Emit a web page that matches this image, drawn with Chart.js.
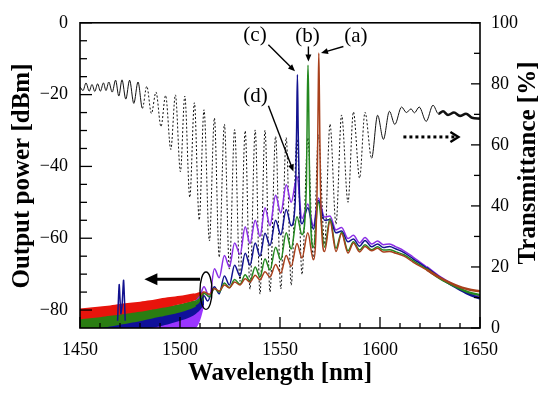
<!DOCTYPE html>
<html><head><meta charset="utf-8">
<script src="https://cdn.jsdelivr.net/npm/chart.js@4.4.1/dist/chart.umd.min.js"></script>
<style>html,body{margin:0;padding:0;background:#fff}</style>
</head><body>
<canvas id="c" width="550" height="395"></canvas>
<script>
const FONT = '"Liberation Serif","Times New Roman",Times,serif';

// ---- axis ticks ----
const wavelengthTicks = [1450, 1500, 1550, 1600, 1650];
const wavelengthMinor = [1460,1470,1480,1490,1510,1520,1530,1540,1560,1570,1580,1590,1610,1620,1630,1640];
const powerTicks = [-80, -60, -40, -20, 0];
const powerMinor = [-75,-70,-65,-55,-50,-45,-35,-30,-25,-15,-10,-5];
const transTicks = [0, 20, 40, 60, 80, 100];
const transMinor = [10, 30, 50, 70, 90];

// ---- transmittance (right axis, %) ----
const transWl = [1450,1451.5,1453,1454.6,1456,1457.4,1458.8,1460.2,1461.7,1463,1464.4,1466.1,1467.8,1469.4,1471,1472.9,1474.8,1476.9,1479,1481.2,1483.4,1485.7,1488,1490.5,1492.8,1495.4,1497.7,1500.2,1502.4,1504.9,1507.2,1509.6,1512,1514.7,1517.2,1519.6,1522.2,1524.7,1527.3,1530,1532.6,1535,1537.6,1540,1542.5,1545,1547.8,1550.4,1553.1,1555.6,1558.5,1561,1563.9,1566.7,1569.2,1572.3,1575,1578,1580.8,1584,1586.7,1589.8,1592.5,1595.8,1598.8,1601.7,1604.7,1607.4,1610.8,1613.2,1615.5,1617.2,1619.6,1623.1,1626.5,1629.2,1631.5,1634,1637,1640,1643,1646,1650];
const transVal = [79,77.8,80.3,77.6,79.8,77.5,80,77.6,80.3,77.8,80.6,77.3,81.2,76,81.3,75,81.2,73.6,80.6,72,79.2,70.3,77.3,66,76.2,58.5,76.4,51.2,76,42.8,73.8,35.4,71.5,28.5,68.8,23.2,66.8,19.3,65,15.3,64.6,12.7,64.9,11.1,64.8,11.8,62.8,12.8,62.4,14,62,17.5,62.3,22.5,63.3,27.5,66.8,34,69.8,41.2,70.8,49.1,70.7,55.6,69.7,61.8,71,66.7,72.4,70.6,71.8,70.5,72.4,67.7,73,70.2,71,69.8,70.6,69.5,70.2,68.9,68.6];

// ---- output spectra (left axis, dBm) ----
const specDWl = [1508,1510,1512,1514.7,1517.2,1519.6,1522.2,1524.7,1527.3,1530,1532.6,1535,1537.6,1540,1542.5,1545,1547.8,1550.4,1553.1,1555.6,1558.5,1561,1563.9,1566.7,1569.2,1572.3,1575,1578,1580.8,1584,1586.7,1589.8,1592.5,1595.8,1598.8,1601.7,1604.7,1608,1612,1616.7,1623.3,1630,1638.3,1644,1650];
const specDVal = [-77.5,-76,-73.5,-76.5,-68.5,-71,-64.8,-68,-61.3,-64.5,-56.8,-61.5,-55,-59.5,-51.5,-56.5,-48,-53,-45.1,-50,-42.8,-54.5,-50.5,-56.5,-48.8,-54.1,-53.8,-57.7,-57,-60.1,-59.2,-61.3,-59.8,-61.6,-60.8,-61.8,-61.6,-62.4,-63.5,-65.3,-68,-70.8,-73.5,-75.2,-76.3];

const specCWl = [1508,1510,1512,1513.8,1517.2,1519.6,1522.2,1524.7,1527.3,1530,1532.6,1535,1537.6,1540,1542.5,1545,1547.8,1550.4,1553.1,1555.6,1557.6,1558.3,1558.7,1559.1,1559.8,1561,1563.9,1566.7,1569.2,1572.3,1575,1578,1580.8,1584,1586.7,1589.8,1592.5,1595.8,1598.8,1601.7,1604.7,1608,1612,1616.7,1623.3,1630,1638.3,1644,1650];
const specCVal = [-79,-78,-76,-77.5,-73.5,-75.5,-70.5,-73,-67.5,-70.5,-64.2,-67.5,-61.3,-65,-58.6,-62,-55,-59,-52,-56.5,-50,-30,-14.4,-30,-50,-56,-51.5,-57.5,-49.5,-55,-54.8,-58.5,-58,-61,-60.2,-62.2,-60.6,-62.4,-61.6,-62.6,-62.3,-63,-64,-65.8,-68.3,-71,-73.8,-75.5,-76.8];

const specBWl = [1508,1510,1512,1514.7,1517.2,1519.6,1522.2,1524.7,1527.3,1530,1532.6,1535,1537.6,1540,1542.5,1545,1547.8,1550.4,1553.1,1555.6,1558.5,1561,1563.2,1563.7,1564,1564.3,1564.8,1566.7,1569.2,1572.3,1575,1578,1580.8,1584,1586.7,1589.8,1592.5,1595.8,1598.8,1601.7,1604.7,1608,1612,1616.7,1623.3,1630,1638.3,1644,1650];
const specBVal = [-77.5,-76.8,-75.3,-76.3,-74,-75,-72.5,-73.8,-71.5,-72.8,-70.2,-72,-68,-70.8,-65.8,-68.8,-62.5,-66,-58.5,-63,-54,-59,-45,-20,-11.8,-20,-45,-62.5,-50,-62.5,-54.5,-62.8,-58.3,-63.5,-61,-63.3,-61.8,-63.2,-62.4,-63.3,-63.2,-63.8,-64.6,-66.3,-68.6,-71.2,-73.6,-75,-75.8];

const specAWl = [1508,1510,1512,1514.7,1517.2,1519.6,1522.2,1524.7,1527.3,1530,1532.6,1535,1537.6,1540,1542.5,1545,1547.8,1550.4,1553.1,1555.6,1558.5,1561,1563.9,1566.7,1568.6,1569.1,1569.4,1569.7,1570.2,1572.3,1575,1578,1580.8,1584,1586.7,1589.8,1592.5,1595.8,1598.8,1601.7,1604.7,1608,1612,1616.7,1623.3,1630,1638.3,1644,1650];
const specAVal = [-76.5,-75.8,-75,-75.6,-74,-74.7,-73,-73.8,-72.2,-73,-71.3,-72.2,-70.3,-71.6,-69.3,-70.8,-67.3,-69.7,-64.8,-67.8,-61.5,-65.5,-58.5,-66,-45,-20,-8.4,-20,-45,-63.7,-55.3,-63.7,-58.7,-64.1,-61.3,-63.8,-62.3,-63.5,-62.8,-63.8,-63.7,-64.2,-65,-66.7,-68.8,-71,-73.2,-74.2,-74.8];

// ---- noise floor bands (dBm) ----
const floorWl = [1450,1455,1460,1465,1470,1475,1480,1485,1490,1495,1500,1505,1508,1510,1512];
const redTop = [-79.6,-79.3,-79,-78.7,-78.3,-78,-77.7,-77.3,-76.8,-76.4,-76,-75.5,-75.3,-75,-74.8];
const redBottom = [-82.6,-82.3,-82,-81.6,-81.3,-80.9,-80.5,-80,-79.5,-79,-78.4,-77.7,-77.2,-76.7,-76];
const greenTop = [-82.4,-82.1,-81.8,-81.4,-81,-80.6,-80.2,-79.8,-79.3,-78.8,-78.3,-77.6,-77.2,-76.7,-76];
const greenBottom = [-85,-85,-85,-84.6,-84.1,-83.6,-83.1,-82.5,-81.9,-81.3,-80.7,-79.8,-79,-78.2,-77];
const navyTop = [-84.8,-84.4,-84,-83.5,-83,-82.5,-82,-81.3,-80.6,-79.9,-79.2,-78.2,-77.6,-77,-76.5];
const navyBottom = [-85,-85,-85,-85,-85,-85,-85,-85,-84.5,-83.8,-83,-82,-81,-80,-78.5];
const purpleTop = [-85,-85,-85,-85,-85,-85,-85,-84.3,-83.5,-82.5,-81.5,-80,-79,-78,-77];
const purpleBottom = [-85,-85,-85,-85,-85,-85,-85,-85,-85,-85,-85,-85,-85,-83,-79];
const spurWl = [1468.8,1469.6,1470.4,1471,1471.8,1472.6];
const spurVal = [-83,-72.9,-81,-79,-71.7,-83];

// ---- annotations ----
const noteText = ['(a)', '(b)', '(c)', '(d)'];
const noteWl = [1587.9, 1563.75, 1537.5, 1537.8];
const notePow = [-3.8, -3.8, -3.6, -20.4];
const pointerFromWl = [1581.7, 1564.2, 1544.2, 1544.2];
const pointerFromPow = [-6.6, -6.6, -6.1, -23.1];
const pointerToWl = [1570.5, 1564.2, 1557.5, 1556.7];
const pointerToPow = [-8.4, -10.8, -13.5, -41.4];
const ellipseCenter = [1513, -74.6];
const ellipseRadius = [3, 5.2];
const leftArrow = [1510, 1482.2, -71.4];      // from wl, to wl, power
const rightArrow = [1611.7, 1639.2, 62.6];    // from wl, to wl, transmittance

const pts = (xs, ys) => xs.map((v, i) => ({x: v, y: ys[i]}));

const COL = {a: '#a8401c', b: '#23881f', c: '#12128f', d: '#8b2fe6'};

function line(label, xs, ys, color, order, extra) {
  return Object.assign({label, data: pts(xs, ys), borderColor: color, backgroundColor: color,
    borderWidth: 1.5, pointRadius: 0, fill: false, cubicInterpolationMode: 'monotone', order, yAxisID: 'y',
    segment: {borderWidth: ctx => ctx.p0.parsed.x >= 1620 ? 2.4 : 1.5}}, extra || {});
}
function band(label, xs, top, bottom, color, order) {
  return [
    {label: label + ' top', data: pts(xs, top), borderWidth: 0, borderColor: color, backgroundColor: color, pointRadius: 0, fill: '+1', order, yAxisID: 'y', tension: 0.3},
    {label: label + ' bottom', data: pts(xs, bottom), borderWidth: 0, borderColor: color, backgroundColor: color, pointRadius: 0, fill: false, order, yAxisID: 'y', tension: 0.3}
  ];
}

const datasets = [
  line('(a)', specAWl, specAVal, COL.a, 1),
  line('(b)', specBWl, specBVal, COL.b, 2),
  line('(c)', specCWl, specCVal, COL.c, 3),
  line('(d)', specDWl, specDVal, COL.d, 4),
  line('spur', spurWl, spurVal, COL.c, 5, {cubicInterpolationMode: 'default', tension: 0.2}),
  ...band('red floor', floorWl, redTop, redBottom, '#e8140c', 6),
  ...band('green floor', floorWl, greenTop, greenBottom, '#2a7d12', 7),
  ...band('navy floor', floorWl, navyTop, navyBottom, '#10109a', 8),
  ...band('purple floor', floorWl, purpleTop, purpleBottom, '#9b35ff', 9),
  {label: 'Transmittance', data: pts(transWl, transVal), yAxisID: 'y2', borderColor: '#111', borderWidth: 1,
   pointRadius: 0, fill: false, cubicInterpolationMode: 'monotone', order: 10,
   segment: {
     borderDash: ctx => (ctx.p0.parsed.x >= 1481 && ctx.p1.parsed.x <= 1598) ? [2, 2] : undefined,
     borderWidth: ctx => ctx.p0.parsed.x >= 1629 ? 2.6 : 1
   }}
];

function arrow(ctx, x0, y0, x1, y1, lw, hl, hw) {
  const ang = Math.atan2(y1 - y0, x1 - x0);
  const c = Math.cos(ang), s = Math.sin(ang);
  const bx = x1 - hl * c, by = y1 - hl * s;
  ctx.lineWidth = lw;
  ctx.beginPath(); ctx.moveTo(x0, y0); ctx.lineTo(bx + c, by + s); ctx.stroke();
  ctx.beginPath(); ctx.moveTo(x1, y1);
  ctx.lineTo(bx + hw / 2 * s, by - hw / 2 * c);
  ctx.lineTo(bx - hw / 2 * s, by + hw / 2 * c);
  ctx.closePath(); ctx.fill();
}

const deco = {
  id: 'deco',
  afterDraw(chart) {
    const {ctx, chartArea: a, scales} = chart;
    const X = scales.x, Y = scales.y, Y2 = scales.y2;
    ctx.save();
    ctx.strokeStyle = '#000'; ctx.fillStyle = '#000';
    ctx.lineWidth = 1.6;
    ctx.strokeRect(a.left, a.top, a.right - a.left, a.bottom - a.top);
    ctx.lineWidth = 1.3;
    const tick = (x0, y0, x1, y1) => { ctx.beginPath(); ctx.moveTo(x0, y0); ctx.lineTo(x1, y1); ctx.stroke(); };
    wavelengthTicks.forEach(v => { const p = X.getPixelForValue(v); tick(p, a.bottom, p, a.bottom - 11); });
    wavelengthMinor.forEach(v => { const p = X.getPixelForValue(v); tick(p, a.bottom, p, a.bottom - 5); });
    powerTicks.forEach(v => { const p = Y.getPixelForValue(v); tick(a.left, p, a.left + 12, p); });
    powerMinor.forEach(v => { const p = Y.getPixelForValue(v); tick(a.left, p, a.left + 7, p); });
    transTicks.forEach(v => { const p = Y2.getPixelForValue(v); tick(a.right, p, a.right - 9, p); });
    transMinor.forEach(v => { const p = Y2.getPixelForValue(v); tick(a.right, p, a.right - 6, p); });

    ctx.font = '21px ' + FONT; ctx.textAlign = 'center'; ctx.textBaseline = 'middle';
    noteText.forEach((t, i) => ctx.fillText(t, X.getPixelForValue(noteWl[i]), Y.getPixelForValue(notePow[i])));
    noteText.forEach((t, i) => arrow(ctx, X.getPixelForValue(pointerFromWl[i]), Y.getPixelForValue(pointerFromPow[i]),
      X.getPixelForValue(pointerToWl[i]), Y.getPixelForValue(pointerToPow[i]), 1.4, 7, 6));
    const ex = X.getPixelForValue(ellipseCenter[0]), ey = Y.getPixelForValue(ellipseCenter[1]);
    const rx = Math.abs(X.getPixelForValue(ellipseCenter[0] + ellipseRadius[0]) - ex);
    const ry = Math.abs(Y.getPixelForValue(ellipseCenter[1] + ellipseRadius[1]) - ey);
    ctx.lineWidth = 1.4; ctx.beginPath(); ctx.ellipse(ex, ey, rx, ry, 0, 0, Math.PI * 2); ctx.stroke();
    const ay = Y.getPixelForValue(leftArrow[2]);
    arrow(ctx, X.getPixelForValue(leftArrow[0]), ay, X.getPixelForValue(leftArrow[1]), ay, 3, 13, 12);
    const ry2 = Y2.getPixelForValue(rightArrow[2]);
    const rx0 = X.getPixelForValue(rightArrow[0]), rx1 = X.getPixelForValue(rightArrow[1]);
    ctx.lineWidth = 3; ctx.setLineDash([3, 3]);
    ctx.beginPath(); ctx.moveTo(rx0, ry2); ctx.lineTo(rx1 - 3, ry2); ctx.stroke();
    ctx.setLineDash([]); ctx.lineWidth = 2.4; ctx.lineJoin = 'miter';
    ctx.beginPath(); ctx.moveTo(rx1 - 8, ry2 - 5); ctx.lineTo(rx1, ry2); ctx.lineTo(rx1 - 8, ry2 + 5); ctx.stroke();

    ctx.font = 'bold 25px ' + FONT; ctx.textAlign = 'center'; ctx.textBaseline = 'middle';
    ctx.fillText('Wavelength [nm]', (a.left + a.right) / 2, 374);
    ctx.save(); ctx.translate(23, 176); ctx.rotate(-Math.PI / 2); ctx.fillText('Output power [dBm]', 0, 0); ctx.restore();
    ctx.save(); ctx.translate(529, 163); ctx.rotate(-Math.PI / 2); ctx.fillText('Transmittance [%]', 0, 0); ctx.restore();
    ctx.restore();
  }
};

const tickFont = {family: FONT, size: 18};
new Chart(document.getElementById('c'), {
  type: 'line',
  data: {datasets},
  plugins: [deco],
  options: {
    responsive: false, animation: false, devicePixelRatio: 1,
    layout: {padding: {top: 12, left: 0, right: 0, bottom: 0}},
    plugins: {legend: {display: false}, tooltip: {enabled: false}},
    scales: {
      x: {type: 'linear', min: 1450, max: 1650,
          afterBuildTicks: s => { s.ticks = wavelengthTicks.map(v => ({value: v})); },
          afterFit: s => { s.height = 67; },
          grid: {display: false, drawTicks: false}, border: {display: false},
          ticks: {font: tickFont, color: '#000', padding: 11, maxRotation: 0, autoSkip: false, callback: v => String(v)}},
      y: {type: 'linear', position: 'left', min: -85, max: 0,
          afterBuildTicks: s => { s.ticks = powerTicks.map(v => ({value: v})); },
          afterFit: s => { s.width = 80; },
          grid: {display: false, drawTicks: false}, border: {display: false},
          ticks: {font: tickFont, color: '#000', padding: 12, callback: v => v < 0 ? '\u2212' + (-v) : String(v)}},
      y2: {type: 'linear', position: 'right', min: 0, max: 100,
          afterBuildTicks: s => { s.ticks = transTicks.map(v => ({value: v})); },
          afterFit: s => { s.width = 70; },
          grid: {display: false, drawTicks: false}, border: {display: false},
          ticks: {font: tickFont, color: '#000', padding: 11, callback: v => String(v)}}
    }
  }
});
</script>
</body></html>
